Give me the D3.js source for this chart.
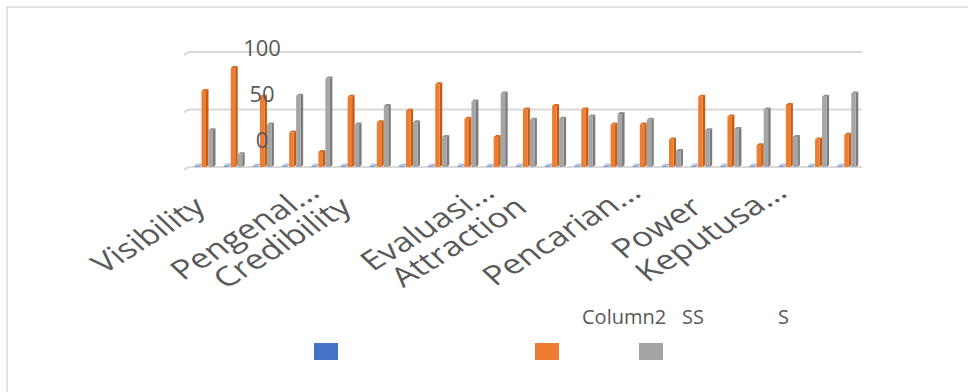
<!DOCTYPE html>
<html lang="en">
<head>
<meta charset="UTF-8">
<title>chart</title>
<style>
  body { margin: 0; background: #fff; }
  svg { display: block; }
  text { font-family: "Open Sans", "Noto Sans", sans-serif; fill: #595959; }
</style>
</head>
<body>
<svg id="chart"></svg>
<script src="https://cdn.jsdelivr.net/npm/d3@7/dist/d3.min.js"></script>
<script>
  // data
  const categories = ['Visibility', '', '', '', 'Pengenal\u2026', 'Credibility', '', '', '', '',
    'Evaluasi\u2026', 'Attraction', '', '', '', 'Pencarian\u2026', '', 'Power', '', '',
    'Keputusa\u2026', '', '']
  const column2 = [0, 0, 0, 0, 0, 0, 0, 0, 0, 0, 0, 0, 0, 0, 0, 0, 0, 0, 0, 0, 0, 0, 0]
  const ss = [66, 86, 61, 30, 13, 61, 39, 49, 72, 42, 26, 50, 53, 50, 37, 37, 24, 61, 44, 19, 54, 24, 28]
  const s = [32, 11, 37, 62, 77, 37, 53, 39, 26, 57, 64, 41, 42, 44, 46, 41, 14, 32, 33, 50, 26, 61, 64]
  const seriesNames = ['Column2', 'SS', 'S']
  const yTicks = [0, 50, 100]

  const W = 968, H = 392
  const svg = d3.select('#chart').attr('width', W).attr('height', H)

  const series = [
    {name: seriesNames[0], values: column2, front: '#4472c4', side: '#2f5597', top: '#6f93d3'},
    {name: seriesNames[1], values: ss, front: '#ed7d31', side: '#c55a11', top: '#d7691f'},
    {name: seriesNames[2], values: s, front: '#a5a5a5', side: '#7b7b7b', top: '#8e8e8e'},
  ]

  // chart border (only top and left edges visible)
  svg.append('path')
    .attr('d', `M7,${H} L7,7 L${W},7`)
    .attr('fill', 'none').attr('stroke', '#d9d9d9').attr('stroke-width', 1.5)

  const x = d3.scaleBand().domain(d3.range(categories.length)).range([190, 862])
  const xs = d3.scaleBand().domain(seriesNames).range([4.5, 25.5])
  const y = d3.scaleLinear().domain([0, 100]).range([167, 52])
  // the value labels sit off their gridlines in the original
  const yLab = d3.scaleLinear().domain([0, 100]).range([148, 56])

  // gridlines with a little perspective hook on the left
  svg.append('g').selectAll('path').data(yTicks).enter().append('path')
    .attr('d', d => `M${x.range()[0] - 6},${y(d) + 3} Q${x.range()[0] - 3},${y(d)} ${x.range()[0]},${y(d)} L${x.range()[1]},${y(d)}`)
    .attr('fill', 'none').attr('stroke', '#d9d9d9').attr('stroke-width', 2)

  // 3d columns
  const depth = 2.5, rise = 2
  const fw = xs.bandwidth() - depth
  series.forEach(ser => {
    const g = svg.append('g')
    const y0 = y(0)
    ser.values.forEach((v, i) => {
      const bx = x(i) + xs(ser.name)
      const by = v === 0 ? y0 - 1.5 : y(v)
      g.append('path')
        .attr('d', `M${bx + fw},${by} L${bx + fw + depth},${by - rise} L${bx + fw + depth},${y0 - rise} L${bx + fw},${y0} Z`)
        .attr('fill', ser.side).attr('opacity', v === 0 ? 0.5 : 1)
      g.append('path')
        .attr('d', `M${bx},${by} L${bx + depth},${by - rise} L${bx + fw + depth},${by - rise} L${bx + fw},${by} Z`)
        .attr('fill', ser.top).attr('opacity', v === 0 ? 0.5 : 1)
      g.append('rect')
        .attr('x', bx).attr('y', by).attr('width', fw).attr('height', y0 - by)
        .attr('fill', ser.front).attr('opacity', v === 0 ? 0.6 : 1)
    })
  })

  // value labels drawn over the columns
  svg.append('g').selectAll('text').data(yTicks).enter().append('text')
    .attr('x', 262).attr('y', d => yLab(d))
    .attr('text-anchor', 'middle')
    .style('font-size', '22px')
    .text(d => d)

  // category labels
  svg.append('g').selectAll('text').data(categories.map((c, i) => ({c, i})).filter(d => d.c))
    .enter().append('text')
    .attr('transform', d => {
      const cut = d.c.endsWith('\u2026')
      const cx = x(d.i) + x.bandwidth() / 2 + (cut ? 0 : 3)
      return `translate(${cx},${cut ? 195 : 210}) scale(1.3,1) rotate(-39)`
    })
    .attr('text-anchor', 'end')
    .style('font-size', '27px')
    .text(d => d.c)

  // legend: names above, swatches below, as in the original
  const legText = [582, 682, 778]
  const legBox = [314, 535, 639]
  svg.append('g').selectAll('text').data(seriesNames).enter().append('text')
    .attr('x', (d, i) => legText[i]).attr('y', 324)
    .style('font-size', '20px')
    .text(d => d)
  svg.append('g').selectAll('rect').data(series).enter().append('rect')
    .attr('x', (d, i) => legBox[i]).attr('y', 343)
    .attr('width', 24).attr('height', 17)
    .attr('fill', d => d.front)
</script>
</body>
</html>
